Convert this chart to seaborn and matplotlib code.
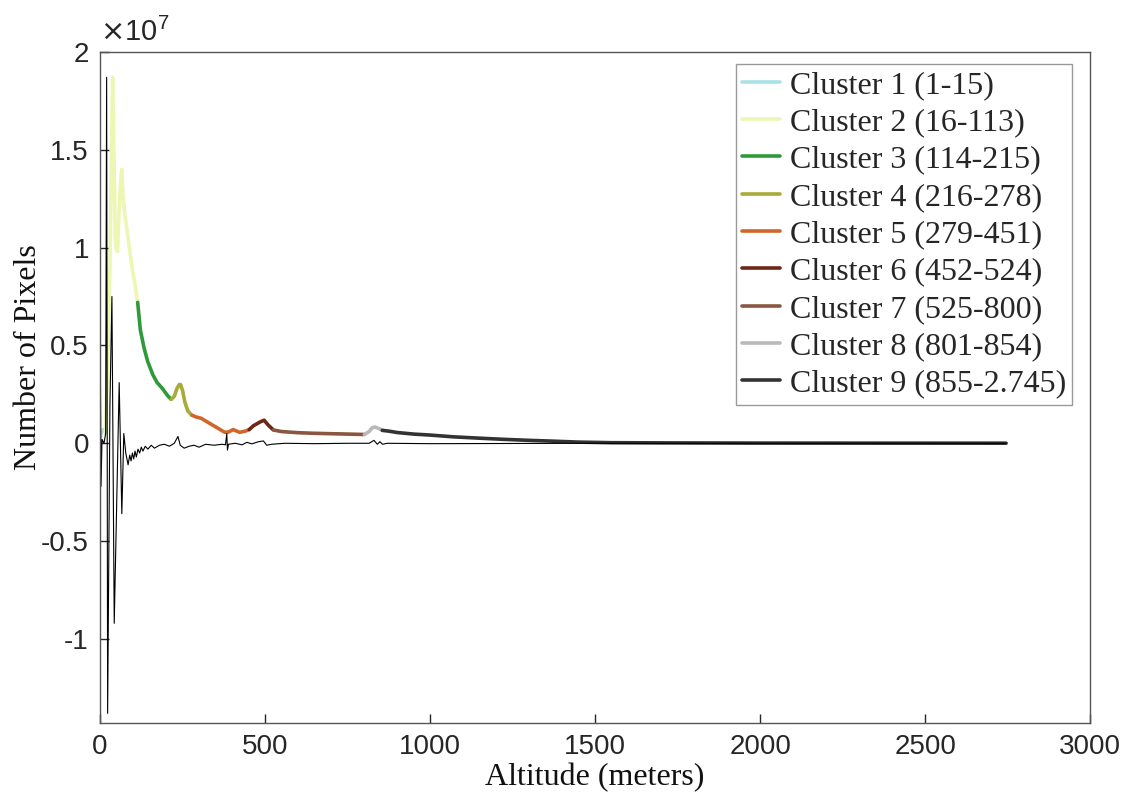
import numpy as np
import pandas as pd
import matplotlib
matplotlib.use("Agg")
import matplotlib.pyplot as plt
import seaborn as sns
from matplotlib.ticker import FuncFormatter

# ---------------- data ----------------
cluster_labels = ["Cluster 1 (1-15)", "Cluster 2 (16-113)", "Cluster 3 (114-215)",
                  "Cluster 4 (216-278)", "Cluster 5 (279-451)", "Cluster 6 (452-524)",
                  "Cluster 7 (525-800)", "Cluster 8 (801-854)", "Cluster 9 (855-2.745)"]
cluster_colors = ["#a8e2e8", "#eef6b4", "#2e9a3a", "#a9ab38", "#d0662a",
                  "#6e2616", "#8a5640", "#b9b9b9", "#333333"]

c1_alt = [1, 5, 10, 15]
c1_pix = [0.03e7, 0.06e7, 0.07e7, 0.06e7]
c2_alt = [16, 22, 30, 35, 38, 42, 46, 49, 53, 58, 63, 66, 70, 76, 85, 95, 105, 113]
c2_pix = [0.05e7, 0.35e7, 0.9e7, 1.5e7, 1.87e7, 1.5e7, 1.05e7, 0.99e7, 0.98e7, 1.2e7,
          1.36e7, 1.40e7, 1.25e7, 1.16e7, 1.05e7, 0.92e7, 0.82e7, 0.73e7]
c3_alt = [114, 122, 133, 144, 160, 173, 189, 204, 215]
c3_pix = [0.72e7, 0.58e7, 0.49e7, 0.42e7, 0.35e7, 0.31e7, 0.28e7, 0.245e7, 0.225e7]
c4_alt = [216, 225, 233, 240, 244, 250, 257, 266, 278]
c4_pix = [0.225e7, 0.24e7, 0.28e7, 0.30e7, 0.30e7, 0.27e7, 0.21e7, 0.165e7, 0.143e7]
c5_alt = [279, 290, 306, 327, 352, 378, 390, 403, 423, 440, 451]
c5_pix = [0.143e7, 0.135e7, 0.128e7, 0.107e7, 0.082e7, 0.056e7, 0.058e7, 0.07e7,
          0.056e7, 0.062e7, 0.07e7]
c6_alt = [452, 465, 485, 497, 510, 524]
c6_pix = [0.07e7, 0.09e7, 0.109e7, 0.118e7, 0.092e7, 0.07e7]
c7_alt = [525, 550, 600, 650, 700, 750, 800]
c7_pix = [0.068e7, 0.06e7, 0.054e7, 0.051e7, 0.049e7, 0.047e7, 0.045e7]
c8_alt = [801, 815, 825, 833, 845, 854]
c8_pix = [0.045e7, 0.06e7, 0.08e7, 0.083e7, 0.075e7, 0.068e7]
c9_alt = [855, 875, 900, 950, 1000, 1070, 1150, 1225, 1300, 1370, 1450, 1550, 1700,
          2000, 2745]
c9_pix = [0.066e7, 0.062e7, 0.055e7, 0.047e7, 0.042e7, 0.033e7, 0.026e7, 0.02e7,
          0.015e7, 0.011e7, 0.006e7, 0.003e7, 0.002e7, 0.001e7, 0.0005e7]

cluster_alts = [c1_alt, c2_alt, c3_alt, c4_alt, c5_alt, c6_alt, c7_alt, c8_alt, c9_alt]
cluster_pixs = [c1_pix, c2_pix, c3_pix, c4_pix, c5_pix, c6_pix, c7_pix, c8_pix, c9_pix]

# thin black curve (change of pixel count)
diff_alt = [0, 1, 3, 6, 12, 17, 20, 23, 30, 36, 43, 58, 66, 72, 78, 85, 90, 94, 98,
            102, 106, 110, 115, 120, 125, 130, 137, 145, 155, 165, 180, 195, 210, 225,
            236, 243, 255, 270, 285, 300, 320, 345, 370, 380, 384, 386, 389, 410, 430,
            445, 460, 480, 495, 505, 520, 560, 650, 750, 815, 830, 840, 848, 856, 870,
            1000, 1500, 2745]
diff_val = [0.0, 0.39e7, -0.22e7, 0.02e7, 0.0, 0.05e7, 1.87e7, -1.38e7, 0.2e7, 0.75e7,
            -0.92e7, 0.31e7, -0.36e7, 0.05e7, -0.05e7, -0.11e7, -0.06e7, -0.09e7,
            -0.05e7, -0.08e7, -0.04e7, -0.07e7, -0.03e7, -0.05e7, -0.02e7, -0.04e7,
            -0.015e7, -0.03e7, -0.01e7, -0.025e7, -0.01e7, -0.005e7, -0.015e7, 0.0,
            0.035e7, -0.01e7, -0.025e7, -0.015e7, -0.01e7, -0.02e7, -0.005e7, -0.01e7,
            -0.005e7, -0.008e7, 0.05e7, -0.035e7, -0.005e7, 0.0, -0.008e7, 0.005e7,
            -0.003e7, 0.008e7, 0.012e7, -0.01e7, -0.005e7, 0.0, -0.002e7, 0.0, 0.0,
            0.015e7, -0.005e7, 0.008e7, -0.005e7, 0.0, -0.002e7, 0.0, 0.0]

x_ticks = [0, 500, 1000, 1500, 2000, 2500, 3000]
y_ticks = [-1e7, -0.5e7, 0, 0.5e7, 1e7, 1.5e7, 2e7]

# ---------------- plot ----------------
sns.set_style("white")
plt.rcParams['font.family'] = ['Liberation Sans', 'DejaVu Sans']

fig = plt.figure(figsize=(11.24, 7.99), dpi=100)
ax = fig.add_axes([0.089, 0.095, 0.881, 0.840])

for lab, col, xa, ya in zip(cluster_labels, cluster_colors, cluster_alts, cluster_pixs):
    df = pd.DataFrame({"alt": xa, "pix": ya})
    sns.lineplot(data=df, x="alt", y="pix", ax=ax, color=col, lw=2.6, label=lab,
                 estimator=None, sort=False)

df_d = pd.DataFrame({"alt": diff_alt, "val": diff_val})
sns.lineplot(data=df_d, x="alt", y="val", ax=ax, color="black", lw=0.8,
             estimator=None, sort=False, legend=False)

ax.set_xlim(0, 3000)
ax.set_ylim(-1.43e7, 2e7)
ax.set_xticks(x_ticks)
ax.set_yticks(y_ticks)
ax.yaxis.set_major_formatter(FuncFormatter(lambda v, p: f"{v/1e7:g}".replace("\u2212", "-")))
ax.tick_params(direction="in", length=6.5, width=1, labelsize=20, colors="#262626",
               pad=8, top=False, right=False, left=True, bottom=True)
for s in ax.spines.values():
    s.set_color("#555555")
    s.set_linewidth(1)

serif = ['Liberation Serif', 'DejaVu Serif']
ax.set_xlabel("Altitude (meters)", fontsize=23, family=serif, color="#111111", labelpad=2)
ax.set_ylabel("Number of Pixels", fontsize=23, family=serif, color="#111111")
ax.yaxis.set_label_coords(-0.058, 0.545)

ax.text(0.0, 1.008, r"$\times\mathregular{10^{7}}$", transform=ax.transAxes,
        ha="left", va="bottom", fontsize=21, color="#262626")

handles, labels = ax.get_legend_handles_labels()
leg = ax.legend(handles, labels, loc="upper right", bbox_to_anchor=(0.982, 0.982),
                borderaxespad=0, prop={'family': serif, 'size': 23},
                handlelength=1.2, handletextpad=0.3, borderpad=0.2, labelspacing=0.25,
                frameon=True, fancybox=False, framealpha=1, edgecolor="#9a9a9a")
leg.get_frame().set_linewidth(1)

fig.savefig("out.png", dpi=100)
